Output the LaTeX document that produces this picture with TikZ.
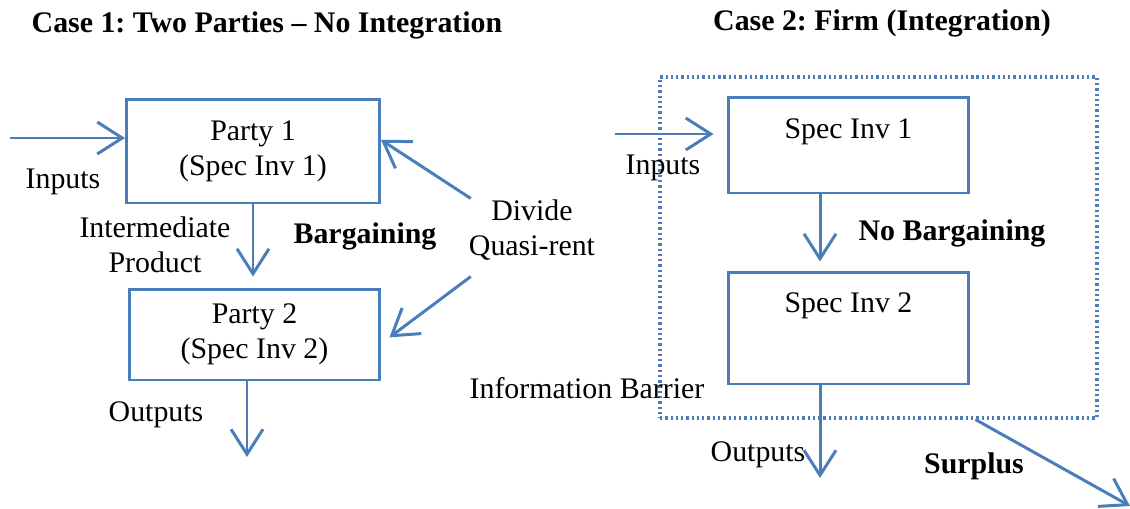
\documentclass[tikz,border=0pt]{standalone}
\usepackage{fontspec}
\setmainfont{Liberation Serif}
\usetikzlibrary{arrows.meta}
\definecolor{boxblue}{RGB}{74,126,187}
\tikzset{
  box/.style={draw=boxblue, line width=1.7pt, align=center, inner sep=0pt},
  barrier/.style={draw=boxblue, line width=1.8pt, dash pattern=on 1.3pt off 1.7pt, inner sep=0pt},
  flow/.style={draw=boxblue, line width=1.7pt, -{Straight Barb[length=0.5cm,width=0.64cm]}},
  lbl/.style={font=\fontsize{17}{20}\selectfont, align=center},
  bold/.style={font=\fontsize{17}{20}\selectfont\bfseries, align=center},
}
\frenchspacing
\begin{document}
\begin{tikzpicture}[x=0.02cm, y=-0.02cm, font=\fontsize{17}{20}\selectfont]
		%%%%% START %%%%%
		\useasboundingbox (0,0) rectangle (1130,508);

		\node[bold] (case1) at (267, 25) {Case 1: Two Parties -- No Integration};
		\node[bold] (case2) at (882, 23) {Case 2: Firm (Integration)};

		% case 1: two parties
		\node[box, minimum width=5.06cm, minimum height=2.08cm] (party1) at (253, 151) {Party 1\\(Spec Inv 1)};
		\node[box, minimum width=5.02cm, minimum height=1.82cm] (party2) at (254.5, 334.5) {Party 2\\(Spec Inv 2)};
		\node[lbl] (divide) at (532, 230) {Divide\\Quasi-rent};

		\coordinate (in1) at (10, 138);
		\coordinate (out1) at (247, 457);
		\draw[flow] (in1) -- (in1 -| party1.west);
		\draw[flow, shorten >=0.22cm] (party1) -- (party1 |- party2.north);
		\draw[flow] (out1 |- party2.south) -- (out1);
		\draw[flow] ([xshift=0.16cm, yshift=-0.1cm]divide.north west) -- (party1.5);
		\draw[flow, shorten >=0.2cm] ([xshift=0.16cm, yshift=-0.2cm]divide.south west) -- (party2.-4);

		\node[lbl] (inputs1) at (63, 182) {Inputs};
		\node[lbl] (interm) at (155, 245) {Intermediate\\Product};
		\node[bold] (barg) at (365, 236) {Bargaining};
		\node[lbl] (outputs1) at (156, 415) {Outputs};

		% case 2: firm
		\node[barrier, minimum width=8.74cm, minimum height=6.82cm] (firm) at (878.5, 247.5) {};
		\node[box, minimum width=4.82cm, minimum height=1.92cm,
		  label={[name=inv1txt, font=\fontsize{17}{20}\selectfont, anchor=north, yshift=-0.34cm]north:Spec Inv 1}] (inv1) at (848.5, 145) {};
		\node[box, minimum width=4.82cm, minimum height=2.24cm,
		  label={[name=inv2txt, font=\fontsize{17}{20}\selectfont, anchor=north, yshift=-0.32cm]north:Spec Inv 2}] (inv2) at (848.5, 328) {};

		\coordinate (in2) at (615, 134);
		\coordinate (out2) at (820, 478);
		\coordinate (surp) at (1130, 506);
		\draw[flow, shorten >=0.26cm] (in2) -- (in2 -| inv1.west);
		\draw[flow, shorten >=0.18cm] ([xshift=-0.57cm]inv1.south) -- ([xshift=-0.57cm]inv2.north);
		\draw[flow] (out2 |- inv2.south) -- (out2);
		\draw[flow] ([xshift=1.94cm]firm.south) -- (surp);

		\node[lbl] (inputs2) at (663, 168) {Inputs};
		\node[bold] (nobarg) at (952, 233) {No Bargaining};
		\node[lbl] (infobar) at (587, 388) {Information Barrier};
		\node[lbl] (outputs2) at (758, 455) {Outputs};
		\node[bold] (surplus) at (974, 466) {Surplus};
		%%%%% END %%%%%
\end{tikzpicture}
\end{document}
